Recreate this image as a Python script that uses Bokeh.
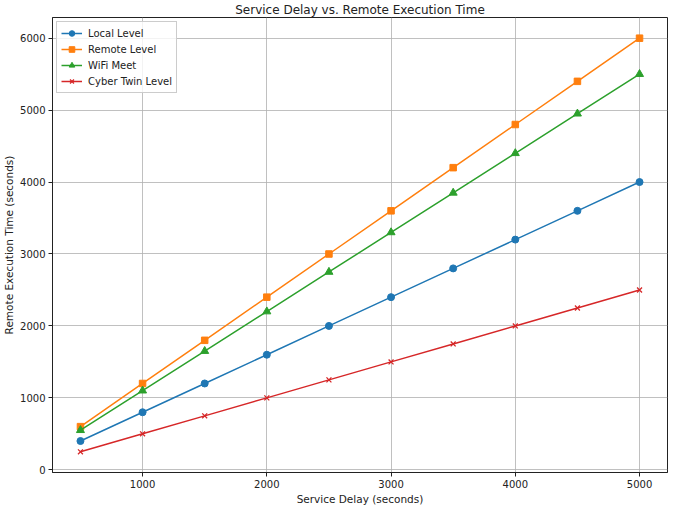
from bokeh.plotting import figure
from bokeh.models import Range1d, FixedTicker, Legend, LegendItem
from bokeh.embed import file_html
from bokeh.resources import INLINE

service_delay = [500, 1000, 1500, 2000, 2500, 3000, 3500, 4000, 4500, 5000]
local_level = [400, 800, 1200, 1600, 2000, 2400, 2800, 3200, 3600, 4000]
remote_level = [600, 1200, 1800, 2400, 3000, 3600, 4200, 4800, 5400, 6000]
wifi_meet = [550, 1100, 1650, 2200, 2750, 3300, 3850, 4400, 4950, 5500]
cyber_twin = [250, 500, 750, 1000, 1250, 1500, 1750, 2000, 2250, 2500]
x_ticks = [1000, 2000, 3000, 4000, 5000]
y_ticks = [0, 1000, 2000, 3000, 4000, 5000, 6000]

FONT = "DejaVu Sans"

p = figure(width=669, height=507, output_backend="svg", toolbar_location=None,
           x_range=Range1d(275, 5225), y_range=Range1d(-37.5, 6287.5),
           title="Service Delay vs. Remote Execution Time",
           min_border_left=0, min_border_right=2, min_border_top=0, min_border_bottom=0)

p.title.text_font = FONT
p.title.text_font_size = "12px"
p.title.text_font_style = "normal"
p.title.align = "center"
p.title.standoff = 1
p.title.offset = 0
p.title.text_color = "#222222"

p.outline_line_color = "#222222"
p.outline_line_width = 1
p.background_fill_color = "white"
p.border_fill_color = "white"

for ax in (p.xaxis, p.yaxis):
    ax.axis_line_color = "#222222"
    ax.major_tick_line_color = "#222222"
    ax.major_tick_out = 4
    ax.major_tick_in = 0
    ax.minor_tick_line_color = None
    ax.major_label_text_font = FONT
    ax.major_label_text_font_size = "10px"
    ax.major_label_text_color = "#222222"
    ax.axis_label_text_font = FONT
    ax.axis_label_text_font_size = "10.5px"
    ax.axis_label_text_font_style = "normal"
    ax.axis_label_text_color = "#222222"

p.xaxis.ticker = FixedTicker(ticks=x_ticks)
p.yaxis.ticker = FixedTicker(ticks=y_ticks)
p.xaxis.axis_label = "Service Delay (seconds)"
p.yaxis.axis_label = "Remote Execution Time (seconds)"
p.xaxis.axis_label_standoff = 2
p.yaxis.axis_label_standoff = 2
p.xaxis.major_label_standoff = 3
p.yaxis.major_label_standoff = 3

p.grid.grid_line_color = "#b0b0b0"
p.grid.grid_line_alpha = 0.8
p.grid.grid_line_width = 1

series = [
    ("Local Level", local_level, "#1f77b4", "circle"),
    ("Remote Level", remote_level, "#ff7f0e", "square"),
    ("WiFi Meet", wifi_meet, "#2ca02c", "triangle"),
    ("Cyber Twin Level", cyber_twin, "#d62728", "x"),
]

items = []
for name, ys, color, marker in series:
    l = p.line(service_delay, ys, line_color=color, line_width=1.5)
    if marker == "x":
        s = p.scatter(service_delay, ys, marker="x", size=7, line_color=color, line_width=1.3)
    elif marker == "triangle":
        s = p.scatter(service_delay, ys, marker="triangle", size=8, fill_color=color, line_color=color)
    elif marker == "square":
        s = p.scatter(service_delay, ys, marker="square", size=6.5, fill_color=color, line_color=color)
    else:
        s = p.scatter(service_delay, ys, marker="circle", size=7, fill_color=color, line_color=color)
    items.append(LegendItem(label=name, renderers=[l, s]))

legend = Legend(items=items, location="top_left")
legend.label_text_font = FONT
legend.label_text_font_size = "10px"
legend.label_text_color = "#222222"
legend.border_line_color = "#cccccc"
legend.border_line_alpha = 1
legend.background_fill_alpha = 0.8
legend.glyph_width = 21
legend.glyph_height = 14
legend.label_standoff = 6
legend.spacing = 2
legend.padding = 4
legend.margin = 4
legend.label_height = 13
p.add_layout(legend)

open("out.html", "w").write(file_html(p, INLINE))
